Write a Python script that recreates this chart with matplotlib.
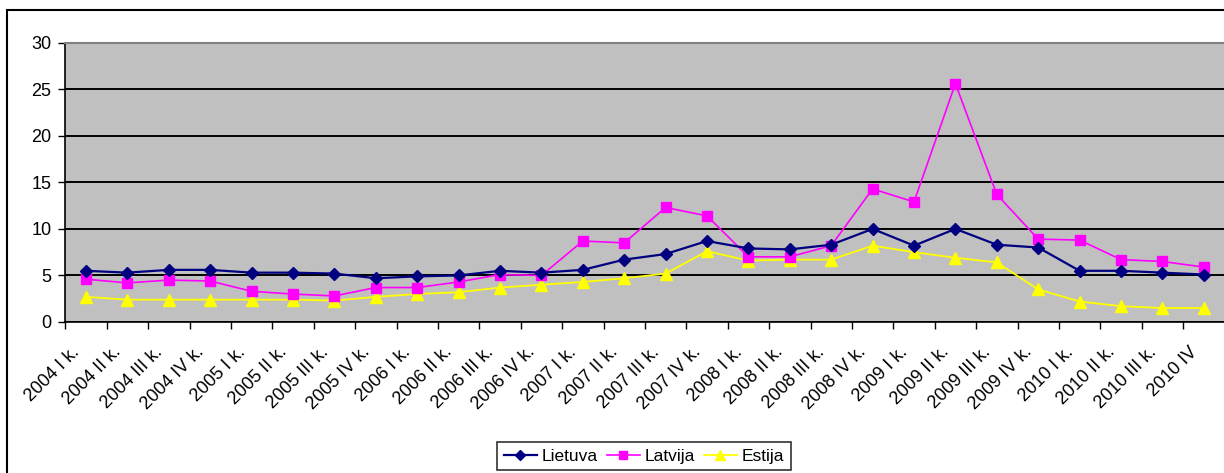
import matplotlib
matplotlib.use("Agg")
import matplotlib.pyplot as plt
from matplotlib.patches import Rectangle
from matplotlib.transforms import ScaledTranslation

plt.rcParams["font.family"] = ["Liberation Sans", "DejaVu Sans"]

quarters = [
    "2004 I k.", "2004 II k.", "2004 III k.", "2004 IV k.",
    "2005 I k.", "2005 II k.", "2005 III k.", "2005 IV k.",
    "2006 I k.", "2006 II k.", "2006 III k.", "2006 IV k.",
    "2007 I k.", "2007 II k.", "2007 III k.", "2007 IV k.",
    "2008 I k.", "2008 II k.", "2008 III k.", "2008 IV k.",
    "2009 I k.", "2009 II k.", "2009 III k.", "2009 IV k.",
    "2010 I k.", "2010 II k.", "2010 III k.", "2010 IV",
]

lietuva = [5.5, 5.3, 5.6, 5.6, 5.3, 5.3, 5.2, 4.7, 4.9, 5.0, 5.5, 5.3, 5.6, 6.7,
           7.3, 8.7, 7.9, 7.8, 8.3, 10.0, 8.2, 10.0, 8.3, 8.0, 5.5, 5.5, 5.3, 5.1]
latvija = [4.6, 4.2, 4.5, 4.4, 3.3, 3.0, 2.8, 3.7, 3.7, 4.3, 5.1, 5.0, 8.7, 8.5,
           12.3, 11.4, 7.0, 7.0, 8.2, 14.3, 12.9, 25.6, 13.7, 8.9, 8.8, 6.7, 6.5, 5.9]
estija = [2.7, 2.4, 2.4, 2.4, 2.4, 2.4, 2.3, 2.7, 3.0, 3.2, 3.7, 4.0, 4.3, 4.7,
          5.2, 7.6, 6.6, 6.7, 6.7, 8.2, 7.5, 6.9, 6.4, 3.5, 2.2, 1.7, 1.5, 1.5]

W, H = 1224, 473
fig = plt.figure(figsize=(W / 100, H / 100), dpi=100)
ax = fig.add_axes([65.3 / W, (H - 322) / H, (1224.5 - 65.3) / W, (322 - 42.7) / H])
ax.set_facecolor("#C0C0C0")

x = list(range(len(quarters)))
ax.plot(x, lietuva, color="#000080", lw=1.6, marker="D", ms=6.5, label="Lietuva", zorder=5)
ax.plot(x, latvija, color="#FF00FF", lw=1.2, marker="s", ms=7.5, label="Latvija", zorder=4)
ax.plot(x, estija, color="#FFFF00", lw=1.3, marker="^", ms=9, label="Estija", zorder=3)

ax.set_xlim(-0.5, len(quarters) - 0.5)
ax.set_ylim(0, 30)
ax.set_yticks(range(0, 31, 5))
ax.yaxis.grid(True, color="black", lw=1.4)
ax.set_axisbelow(True)

# category labels: slanted, their ends sitting just left of each category centre
ax.set_xticks(x)
ax.set_xticklabels([])
ax.tick_params(axis="x", which="major", length=0)
label_shift = ScaledTranslation(-15 / 100, -21.5 / 100, fig.dpi_scale_trans)
for i, q in enumerate(quarters):
    ax.text(i, 0, q, transform=ax.get_xaxis_transform() + label_shift,
            rotation=45, ha="right", va="top", rotation_mode="anchor",
            fontsize=13, clip_on=False)

ax.set_xticks([i - 0.5 for i in range(len(quarters) + 1)], minor=True)
ax.tick_params(axis="x", which="minor", length=5, width=1, direction="out")
ax.tick_params(axis="y", length=5, width=1, direction="out", pad=5, labelsize=13)

for s in ("left", "bottom"):
    ax.spines[s].set_color("black")
    ax.spines[s].set_linewidth(1.2)
ax.spines["top"].set_color("#808080")
ax.spines["top"].set_linewidth(1.5)
ax.spines["right"].set_visible(False)

leg = fig.legend(loc="center", bbox_to_anchor=(644 / W, 1 - 456 / H), ncol=3,
                 fontsize=12.5, frameon=True, fancybox=False, edgecolor="black",
                 handlelength=1.9, handletextpad=0.3, columnspacing=0.5,
                 borderpad=0.35, borderaxespad=0, markerscale=0.8)
leg.get_frame().set_linewidth(1.2)

fig.add_artist(Rectangle((7 / W, -0.05), 1.2, (H - 10.5) / H + 0.05,
                         transform=fig.transFigure, fill=False,
                         edgecolor="black", lw=1.5))

fig.savefig("out.png", dpi=100)
